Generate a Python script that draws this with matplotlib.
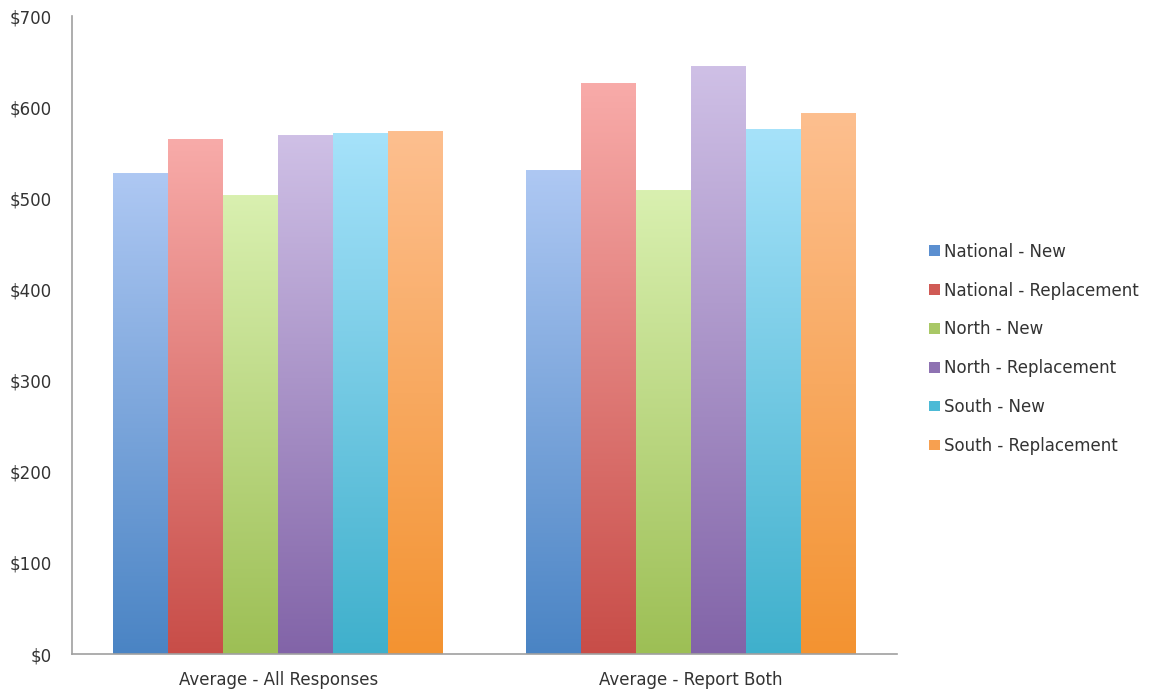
import numpy as np
import matplotlib
matplotlib.use("Agg")
import matplotlib.pyplot as plt
from matplotlib.colors import LinearSegmentedColormap
from matplotlib.patches import Patch

categories = ["Average - All Responses", "Average - Report Both"]
series = ["National - New", "National - Replacement", "North - New",
          "North - Replacement", "South - New", "South - Replacement"]
national_new = [527, 530]
national_repl = [565, 626]
north_new = [503, 509]
north_repl = [569, 645]
south_new = [571, 575]
south_repl = [573, 593]
values = [national_new, national_repl, north_new, north_repl, south_new, south_repl]

bottom_colors = ["#4a84c4", "#c84d48", "#9dbf55", "#8264a8", "#3fb0cc", "#f39331"]
top_colors = ["#aec8f3", "#f8aba9", "#d9f0b0", "#cfc0e6", "#a6e2fa", "#fdbf8f"]
mid_colors = ["#5b8fd0", "#d05a55", "#a9c866", "#8e72b2", "#4cbad6", "#f7a050"]

plt.rcParams['font.family'] = ['DejaVu Sans']
fig = plt.figure(figsize=(11.52, 6.94), dpi=100)
ax = fig.add_axes([72/1152, 1-654/694, (897-72)/1152, (654-16)/694])

n = len(series)
group_w = 0.8
bw = group_w / n
x = np.arange(len(categories))
for i in range(n):
    cmap = LinearSegmentedColormap.from_list("g%d" % i, [bottom_colors[i], top_colors[i]])
    grad = np.linspace(0, 1, 256).reshape(-1, 1)
    for j in range(len(categories)):
        left = x[j] - group_w / 2 + i * bw
        v = values[i][j]
        ax.imshow(grad, cmap=cmap, origin="lower", aspect="auto",
                  extent=[left, left + bw, 0, v], zorder=2, interpolation="bilinear")

ax.set_xlim(-0.5, 1.5)
ax.set_ylim(0, 700)
ax.set_yticks(range(0, 701, 100))
ax.set_yticklabels(["$%d" % t for t in range(0, 701, 100)])
ax.set_xticks(x)
ax.set_xticklabels(categories)
ax.tick_params(axis="both", length=0, labelsize=12, colors="#333333")
ax.tick_params(axis="y", pad=14.4)
ax.tick_params(axis="x", pad=12)
for s in ["top", "right"]:
    ax.spines[s].set_visible(False)
for s in ["left", "bottom"]:
    ax.spines[s].set_color("#a0a0a0")
    ax.spines[s].set_linewidth(1.2)

handles = [Patch(facecolor=mid_colors[i], edgecolor="none", label=series[i]) for i in range(n)]
fig.legend(handles=handles, loc="upper left", bbox_to_anchor=(922/1152, 1-236/694),
           frameon=False, fontsize=12, handlelength=0.65, handleheight=0.6,
           handletextpad=0.3, labelspacing=1.25, labelcolor="#333333",
           borderaxespad=0, borderpad=0.4)

fig.savefig("out.png", dpi=100)
